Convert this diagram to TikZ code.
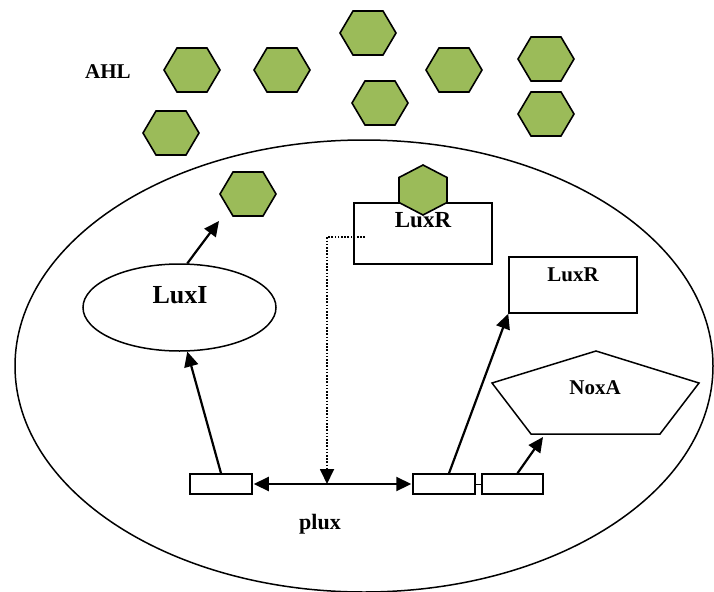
\documentclass[tikz,border=0pt]{standalone}
\usepackage{fontspec}
\setmainfont{Liberation Serif}
\usetikzlibrary{arrows.meta,shapes.geometric,calc}
\definecolor{ahlgreen}{HTML}{9BBB59}
\tikzset{
  hexfill/.style={fill=ahlgreen, draw=black, line width=1.6pt, line join=miter},
  ahl/.pic={\draw[hexfill] (-28,0)--(-15,-22)--(15,-22)--(28,0)--(15,22)--(-15,22)--cycle;
            \coordinate (-c) at (0,0);},
  ahlup/.pic={\draw[hexfill] (0,-25)--(24,-12.5)--(24,12.5)--(0,25)--(-24,12.5)--(-24,-12.5)--cycle;
              \coordinate (-c) at (0,0);},
  outline/.style={draw=black, line width=1.5pt},
  genebox/.style={outline, fill=white, rectangle, minimum width=62, minimum height=20, inner sep=0},
  protbox/.style={outline, fill=white, rectangle, inner sep=0},
  lbl/.style={font=\bfseries\fontsize{#1}{#1}\selectfont, inner sep=0, anchor=base},
  arr/.style={line width=2.2pt, -{Triangle[length=15pt,width=14pt]}},
  dotarr/.style={line width=1.8pt, dash pattern=on 1.6pt off 1.6pt, -{Triangle[length=15pt,width=14pt]}},
}
\begin{document}
\begin{tikzpicture}[x=1pt,y=-1pt]
  \useasboundingbox (0,0) rectangle (714,591);
  \clip (0,0) rectangle (714,591);

  % cell membrane
  \node[outline, ellipse, minimum width=698, minimum height=452, inner sep=0] (cell) at (364,366) {};

  % free AHL molecules
  \pic (h1) at (192,70) {ahl};
  \pic (h2) at (282,70) {ahl};
  \pic (h3) at (171,133) {ahl};
  \pic (h4) at (368,33) {ahl};
  \pic (h5) at (380,103) {ahl};
  \pic (h6) at (454,70) {ahl};
  \pic (h7) at (546,59) {ahl};
  \pic (h8) at (546,114) {ahl};
  \pic (h9) at (248,194) {ahl};
  \node[lbl=21] (ahltext) at (108,79) {AHL};

  % LuxI synthase
  \node[outline, ellipse, minimum width=193, minimum height=87, inner sep=0] (luxI) at (179.5,307.5) {};
  \node[lbl=26] (luxItext) at (180,303) {LuxI};

  % LuxR receptor with bound AHL
  \node[protbox, minimum width=138, minimum height=61] (luxr1) at (423,233.5) {};
  \pic (hb) at (423,190) {ahlup};
  \node[lbl=23] (luxr1text) at (423,227) {LuxR};

  % free LuxR
  \node[protbox, minimum width=128, minimum height=56] (luxr2) at (573,285) {};
  \node[lbl=21] (luxr2text) at (573,281) {LuxR};

  % NoxA
  \draw[outline, line join=miter] (596,351) coordinate (noxTop) -- (699,383) -- (660,434) -- (531,434) -- (492,383) -- cycle;
  \node[lbl=21] (noxtext) at (595,394) {NoxA};

  % lux operon
  \node[genebox] (gene1) at (221,484) {};
  \node[genebox] (gene2) at (444,484) {};
  \node[genebox, minimum width=61] (gene3) at (512.5,484) {};
  \draw[line width=1pt] (gene2.east) -- (gene3.west);
  \node[lbl=22] (plux) at (320,529) {plux};

  % regulatory connections
  \coordinate (ahlIn) at (219,221);
  \coordinate (noxIn) at (543,437);
  \coordinate (luxrSig) at (365,237);
  \coordinate (promoter) at (327,484);

  \draw[arr] (gene1.north) -- (luxI.-80);
  \draw[arr] (luxI.80) -- (ahlIn);
  \draw[line width=2.2pt, {Triangle[length=15pt,width=14pt]}-{Triangle[length=15pt,width=14pt]}, shorten <=1pt, shorten >=1pt] (gene1.east) -- (gene2.west);
  \draw[dotarr] (luxrSig) -| (promoter);
  \draw[arr] ([xshift=5pt]gene2.north) -- (luxr2.south west);
  \draw[arr] ([xshift=5pt]gene3.north) -- (noxIn);
\end{tikzpicture}
\end{document}
